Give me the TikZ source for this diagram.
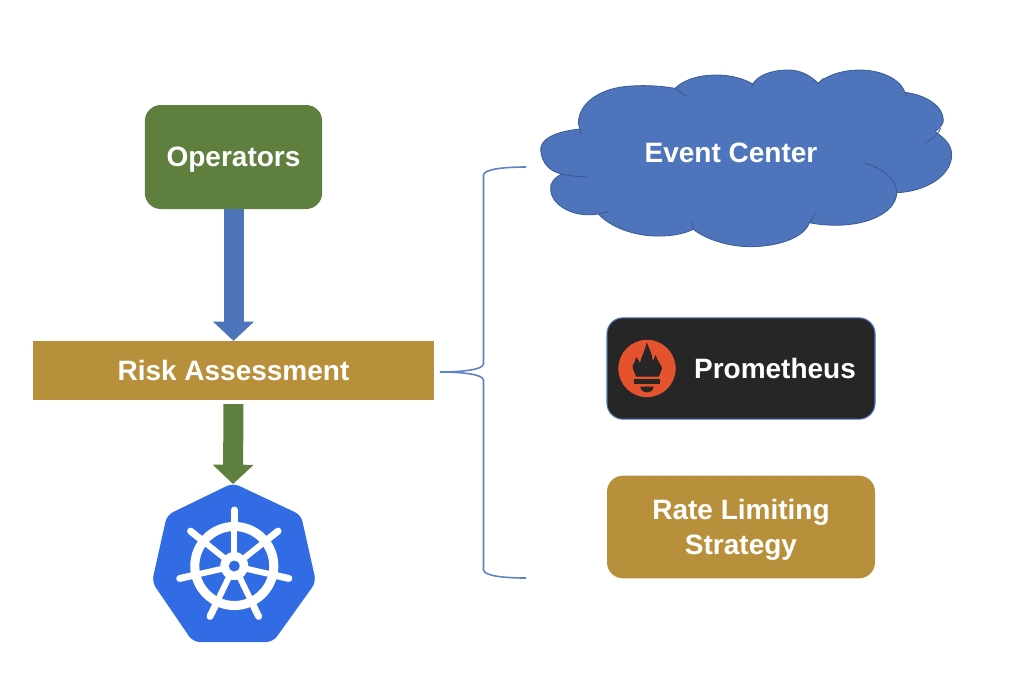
\documentclass[tikz,border=0pt]{standalone}
\usepackage{fontspec}
\setmainfont{Liberation Sans}
\usetikzlibrary{arrows.meta}
\definecolor{opgreen}{HTML}{5F7F3F}
\definecolor{gold}{HTML}{B8903B}
\definecolor{cloudblue}{HTML}{4E74BB}
\definecolor{cloudline}{HTML}{3A5A94}
\definecolor{kubeblue}{HTML}{326CE5}
\definecolor{promdark}{HTML}{262626}
\definecolor{promred}{HTML}{E5532E}
\definecolor{bracecol}{HTML}{5F82C4}

\begin{document}
\begin{tikzpicture}[x=0.75pt,y=-0.75pt,
  main node/.style={font=\bfseries\fontsize{21}{26}\selectfont,text=white,align=center,inner sep=0pt},
  box node/.style={main node,rounded corners=12pt,text depth=0pt},
  block arrow/.style={line width=15pt,-{Triangle[width=30pt,length=14.5pt]}}]
  \useasboundingbox (0,0) rectangle (1014,690);

  % cloud
  \begin{scope}[shift={(530,60)},x=0.25pt,y=-0.25pt]
    \draw[cloudline,fill=cloudblue,line width=0.6pt]
      (150,207) .. controls (70,215) and (30,240) .. (32,270)
      .. controls (35,310) and (60,335) .. (95,342)
      .. controls (70,355) and (60,370) .. (62,390)
      .. controls (65,435) and (130,475) .. (205,462)
      .. controls (250,510) and (330,530) .. (390,528)
      .. controls (430,528) and (465,520) .. (490,508)
      .. controls (530,540) and (600,560) .. (660,560)
      .. controls (750,560) and (825,530) .. (838,488)
      .. controls (870,495) and (910,497) .. (940,495)
      .. controls (1030,490) and (1100,450) .. (1100,398)
      .. controls (1190,395) and (1265,345) .. (1265,285)
      .. controls (1265,255) and (1245,235) .. (1215,215)
      .. controls (1235,200) and (1240,190) .. (1240,180)
      .. controls (1240,140) and (1190,105) .. (1125,97)
      .. controls (1110,55) and (1050,30) .. (990,30)
      .. controls (940,30) and (890,45) .. (865,70)
      .. controls (840,45) and (810,30) .. (775,30)
      .. controls (725,30) and (685,45) .. (668,72)
      .. controls (640,55) and (600,45) .. (560,45)
      .. controls (505,45) and (460,60) .. (435,85)
      .. controls (395,78) and (350,75) .. (305,78)
      .. controls (210,82) and (145,130) .. (145,190) -- cycle;
    \draw[cloudline,line width=0.6pt]
      (150,207) -- (155,222)
      (95,342) .. controls (120,348) and (145,350) .. (170,350)
      (205,462) -- (233,455)
      (485,485) -- (490,508)
      (838,488) .. controls (848,478) and (853,467) .. (855,455)
      (1005,310) .. controls (1060,325) and (1100,360) .. (1100,398)
      (1185,250) .. controls (1200,240) and (1220,230) .. (1232,205)
      (1125,97) -- (1130,110)
      (865,70) -- (880,55)
      (668,72) -- (665,85)
      (435,85) -- (470,108);
  \end{scope}
  \node[main node] (event) at (731,153) {Event Center};

  % boxes
  \node[box node,fill=opgreen,minimum width=133pt,minimum height=78pt] (ops) at (233.5,157) {Operators};
  \node[main node,fill=gold,minimum width=301pt,minimum height=44pt] (risk) at (233.5,370.5) {Risk Assessment};
  \node[box node,fill=promdark,draw=cloudblue,line width=0.8pt,minimum width=201pt,minimum height=76pt] (prom) at (741,368.5) {};
  \node[main node] (promlabel) at (775,368) {Prometheus};
  \node[box node,fill=gold,minimum width=201pt,minimum height=77pt] (rate) at (741,527) {Rate Limiting\\Strategy};

  % prometheus icon
  \node[circle,fill=promred,minimum size=43pt,inner sep=0pt] (promicon) at (647,368.5) {};
  \begin{scope}[shift={(612,335)},x=0.25pt,y=-0.25pt]
    \fill[promdark]
      (72,125) .. controls (70,112) and (60,105) .. (62,92)
      .. controls (66,85) and (70,78) .. (72,66)
      .. controls (78,73) and (81,78) .. (84,84)
      .. controls (88,62) and (100,50) .. (103,22)
      .. controls (112,40) and (120,55) .. (122,78)
      .. controls (125,73) and (128,68) .. (130,60)
      .. controls (136,75) and (148,90) .. (150,100)
      .. controls (150,110) and (142,115) .. (140,125) -- cycle;
    \fill[promdark] (66,131) rectangle (144,146);
    \fill[promdark] (85,155) -- (125,155) .. controls (125,165) and (115,172) .. (105,172)
      .. controls (95,172) and (85,165) .. (85,155) -- cycle;
  \end{scope}

  % kubernetes logo
  \coordinate (k8stop) at (233,484);
  \coordinate (k8s) at (234.3,566);
  \fill[kubeblue,rounded corners=5pt] (233,483) -- (301,515) -- (316,582) -- (273,642)
    -- (193,642) -- (152,582) -- (167,515) -- cycle;
  \draw[white,line width=6.8pt] (k8s) circle (39.5);
  \begin{scope}[shift={(k8s)}]
    \foreach \i in {0,...,6} {
      \draw[white,line width=5.2pt,line cap=round] (270+\i*360/7:39) -- (270+\i*360/7:56);
      \draw[white,line width=4.5pt] (0,0) -- (270+\i*360/7:39);
    }
  \end{scope}
  \fill[white] (k8s) circle (14);
  \fill[kubeblue] (k8s) circle (5.5);

  % arrows
  \draw[block arrow,cloudblue] (ops.south) -- (risk.north);
  \draw[block arrow,opgreen,shorten <=3pt] (risk.south) -- (k8stop);

  % brace
  \coordinate (bracetip) at (440,372);
  \coordinate (bracetop) at (526,167);
  \coordinate (bracebot) at (526,578);
  \draw[bracecol,line width=1.2pt] (bracetop) .. controls (505,167) and (484,169) .. (483.5,175)
    -- (483.5,364) .. controls (483,370) and (460,372) .. (bracetip)
    .. controls (460,372) and (483,374) .. (483.5,380)
    -- (483.5,570) .. controls (484,576) and (505,578) .. (bracebot);
\end{tikzpicture}
\end{document}
